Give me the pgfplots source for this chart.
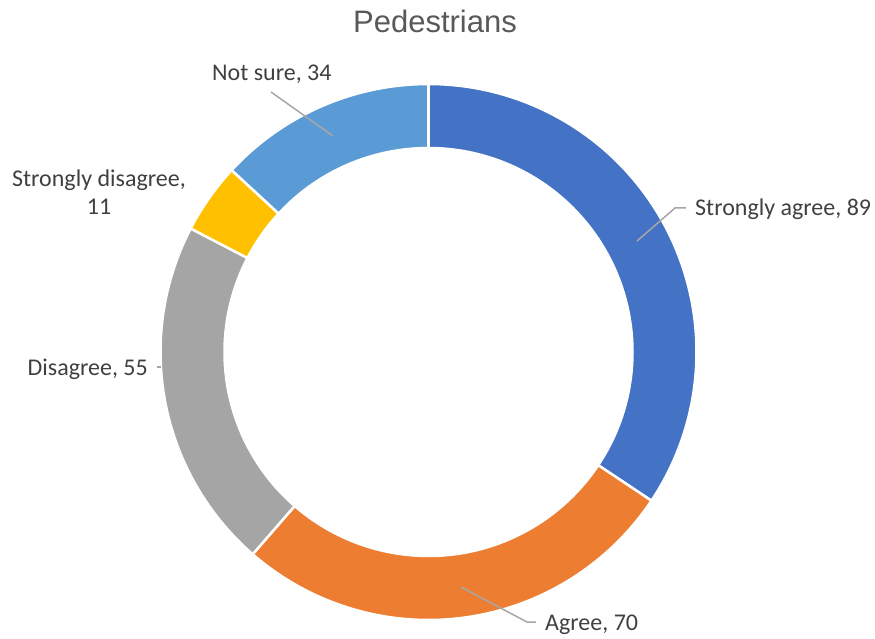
\documentclass[border=0pt]{standalone}
\usepackage{pgfplots}
\pgfplotsset{compat=1.18}
\usepackage{fontspec}
\setmainfont{Carlito}
\newfontfamily\titlefont{Liberation Sans}
\definecolor{cSA}{HTML}{4472C4}
\definecolor{cA}{HTML}{ED7D31}
\definecolor{cD}{HTML}{A5A5A5}
\definecolor{cSD}{HTML}{FFC000}
\definecolor{cNS}{HTML}{5B9BD5}
\definecolor{lbl}{HTML}{404040}
\definecolor{ttl}{HTML}{595959}
\definecolor{lead}{HTML}{A6A6A6}
% data values
\def\vSA{89}
\def\vA{70}
\def\vD{55}
\def\vSD{11}
\def\vNS{34}
\def\cx{428.5}
\def\cy{286}
\def\Ro{268}
\def\Ri{204}
\pgfmathsetmacro\tot{\vSA+\vA+\vD+\vSD+\vNS}
\pgfmathsetmacro\aA{90}
\pgfmathsetmacro\aB{\aA-\vSA/\tot*360}
\pgfmathsetmacro\aC{\aB-\vA/\tot*360}
\pgfmathsetmacro\aD{\aC-\vD/\tot*360}
\pgfmathsetmacro\aE{\aD-\vSD/\tot*360}
\pgfmathsetmacro\aF{\aE-\vNS/\tot*360}
\newcommand\slice[3]{%
  \addplot[fill=#3, draw=white, line width=2.5pt, domain=0:200, samples=201, variable=\t]
  ({\cx + ifthenelse(\t<100.5,\Ro,\Ri)*cos(ifthenelse(\t<100.5, #1+(#2-#1)*\t/100, #2-(#2-#1)*max(\t-101,0)/99))},
   {\cy + ifthenelse(\t<100.5,\Ro,\Ri)*sin(ifthenelse(\t<100.5, #1+(#2-#1)*\t/100, #2-(#2-#1)*max(\t-101,0)/99))}) -- cycle;
}
\begin{document}%
\begin{tikzpicture}
\begin{axis}[
  width=875pt, height=638pt, scale only axis,
  xmin=0, xmax=875, ymin=0, ymax=638,
  hide axis, clip=false,
]
\slice{\aA}{\aB}{cSA}
\slice{\aB}{\aC}{cA}
\slice{\aC}{\aD}{cD}
\slice{\aD}{\aE}{cSD}
\slice{\aE}{\aF}{cNS}
% leader lines
\addplot[lead, line width=1.5pt] coordinates {(637,397) (675,430) (686,430)};
\addplot[lead, line width=1.5pt] coordinates {(461,51) (527,16) (536,16)};
\addplot[lead, line width=1.5pt] coordinates {(157,271) (161,271)};
\addplot[lead, line width=1.5pt] coordinates {(271,546) (333,502)};
% title
\node[text=ttl, font=\titlefont\fontsize{31}{36}\selectfont, anchor=base, inner sep=0pt] at (axis cs:435,605) {Pedestrians};
% labels
\begin{scope}[every node/.style={text=lbl, font=\fontsize{24}{29}\selectfont, inner sep=0pt}]
\node[anchor=base west] at (axis cs:695,422) {Strongly agree, 89};
\node[anchor=base west] at (axis cs:545,8) {Agree, 70};
\node[anchor=base east] at (axis cs:148,263) {Disagree, 55};
\node[anchor=base] at (axis cs:99,451) {Strongly disagree,};
\node[anchor=base] at (axis cs:99,423) {11};
\node[anchor=base west] at (axis cs:212,557) {Not sure, 34};
\end{scope}
\coordinate (bbA) at (axis cs:0,0);
\coordinate (bbB) at (axis cs:875,638);
\end{axis}
\pgfresetboundingbox
\path[use as bounding box] (bbA) rectangle (bbB);
\end{tikzpicture}%
\end{document}
